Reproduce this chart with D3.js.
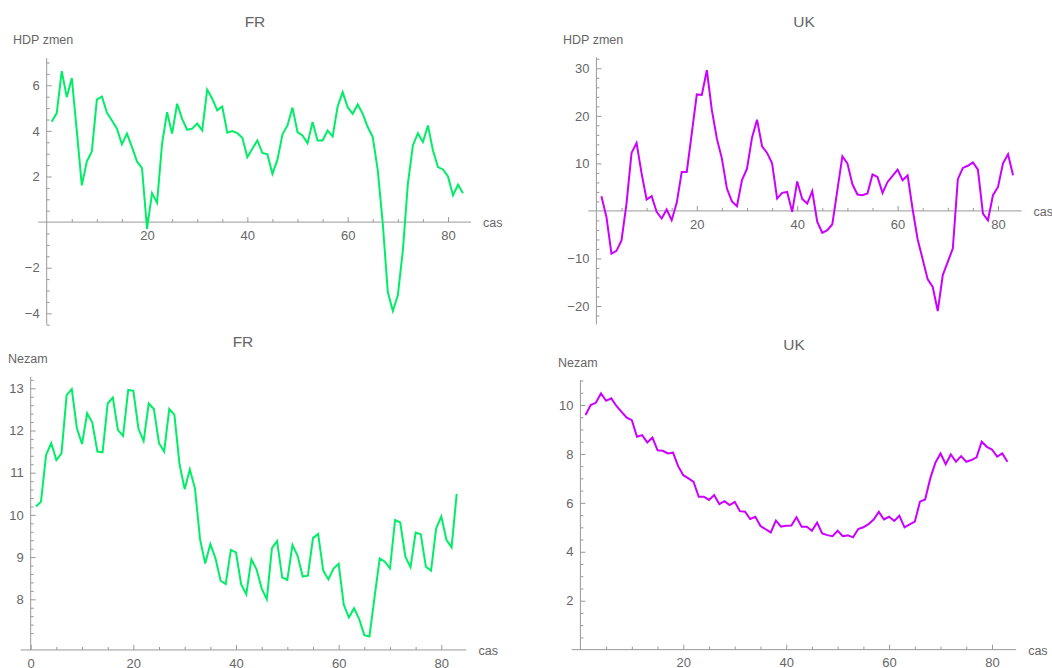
<!DOCTYPE html>
<html>
<head>
<meta charset="utf-8">
<script src="https://cdn.jsdelivr.net/npm/d3@7"></script>
<style>
  body { margin: 0; background: #fff; }
  svg text { font-family: "Liberation Sans", Arial, sans-serif; fill: #666; }
</style>
</head>
<body>
<div id="chart"></div>
<script>
// quarters 1..83 (x axis "cas")
const cas = d3.range(1, 84);

// HDP change, France
const frHdp = [4.4, 4.78, 6.62, 5.48, 6.32, 4.0, 1.61, 2.66, 3.1, 5.37,
  5.51, 4.8, 4.46, 4.1, 3.41, 3.88, 3.29, 2.66, 2.37, -0.3,
  1.27, 0.85, 3.44, 4.82, 3.88, 5.19, 4.53, 4.05, 4.1, 4.32,
  4.02, 5.81, 5.41, 4.9, 5.07, 3.92, 3.99, 3.9, 3.7, 2.85,
  3.22, 3.58, 3.03, 2.97, 2.12, 2.74, 3.85, 4.24, 5.02, 3.95,
  3.8, 3.46, 4.39, 3.58, 3.58, 4.02, 3.76, 5.07, 5.7, 5.04,
  4.75, 5.16, 4.75, 4.17, 3.73, 2.27, -0.07, -3.07, -3.9, -3.21,
  -1.24, 1.68, 3.36, 3.9, 3.51, 4.24, 3.14, 2.41, 2.31, 2.0,
  1.17, 1.64, 1.27];

// HDP change, UK
const ukHdp = [3.1, -1.26, -8.97, -8.4, -6.2, 1.55, 12.2, 14.3, 7.9, 2.4,
  3.1, -0.2, -1.6, 0.3, -1.96, 1.7, 8.2, 8.2, 16.3, 24.5,
  24.4, 29.6, 21.2, 15.2, 11.0, 4.7, 2.0, 1.0, 6.5, 8.9,
  15.4, 19.2, 13.6, 12.2, 10.0, 2.6, 3.8, 4.0, -0.2, 6.2,
  2.5, 1.55, 4.15, -2.3, -4.6, -4.06, -2.8, 4.36, 11.5, 10.0,
  5.6, 3.45, 3.3, 3.66, 7.66, 7.16, 3.8, 6.1, 7.37, 8.7,
  6.46, 7.5, 0.3, -6.0, -10.2, -14.4, -16.0, -21.05, -13.5, -10.7,
  -7.9, 6.67, 9.05, 9.5, 10.2, 8.7, -0.55, -1.96, 3.3, 5.05,
  10.0, 11.9, 7.5];

// unemployment, France
const frNezam = [10.2, 10.31, 11.42, 11.7, 11.3, 11.46, 12.84, 12.98, 12.05, 11.68,
  12.41, 12.19, 11.5, 11.48, 12.64, 12.78, 12.01, 11.87, 12.96, 12.94,
  12.04, 11.75, 12.64, 12.51, 11.7, 11.5, 12.51, 12.37, 11.2, 10.61,
  11.08, 10.63, 9.42, 8.85, 9.31, 8.97, 8.44, 8.36, 9.17, 9.11,
  8.36, 8.12, 8.95, 8.71, 8.26, 8.0, 9.21, 9.38, 8.52, 8.46,
  9.29, 9.03, 8.54, 8.56, 9.45, 9.55, 8.68, 8.47, 8.73, 8.84,
  7.87, 7.57, 7.79, 7.53, 7.15, 7.12, 8.06, 8.97, 8.89, 8.73,
  9.88, 9.82, 9.01, 8.76, 9.58, 9.54, 8.77, 8.68, 9.68, 9.96,
  9.41, 9.23, 10.5];

// unemployment, UK
const ukNezam = [9.59, 10.0, 10.09, 10.47, 10.17, 10.27, 9.96, 9.72, 9.48, 9.38,
  8.7, 8.77, 8.47, 8.67, 8.15, 8.13, 8.02, 8.05, 7.5, 7.13,
  7.0, 6.86, 6.25, 6.25, 6.12, 6.32, 5.95, 6.07, 5.91, 6.04,
  5.66, 5.64, 5.34, 5.43, 5.05, 4.92, 4.79, 5.27, 5.03, 5.06,
  5.07, 5.41, 5.02, 5.02, 4.86, 5.19, 4.75, 4.68, 4.64, 4.86,
  4.64, 4.67, 4.59, 4.93, 5.0, 5.13, 5.32, 5.63, 5.32, 5.43,
  5.26, 5.47, 5.0, 5.12, 5.23, 6.05, 6.14, 7.0, 7.64, 8.02,
  7.58, 7.98, 7.68, 7.91, 7.68, 7.75, 7.86, 8.5, 8.29, 8.18,
  7.89, 8.02, 7.68];

// tick values
const xMajorTL = [20, 40, 60, 80];
const xMajorBL = [0, 20, 40, 60, 80];
const yTicksFrHdp = [-4, -2, 2, 4, 6];
const yTicksUkHdp = [-20, -10, 10, 20, 30];
const yTicksFrNezam = [8, 9, 10, 11, 12, 13];
const yTicksUkNezam = [2, 4, 6, 8, 10];

const green = "#00ee66";
const purple = "#cc00ff";

const svg = d3.select("#chart").append("svg")
  .attr("width", 1052)
  .attr("height", 668);

function drawPanel(p) {
  const x = d3.scaleLinear().domain([0, 80]).range(p.xRange);
  const y = d3.scaleLinear().domain(p.yDomain).range(p.yRange);
  const g = svg.append("g");

  // title
  g.append("text")
    .attr("x", p.title[1]).attr("y", p.title[2])
    .attr("text-anchor", "middle")
    .style("font-size", "15.5px")
    .text(p.title[0]);

  // y label
  g.append("text")
    .attr("x", p.yLabel[1]).attr("y", p.yLabel[2])
    .style("font-size", "12.5px")
    .text(p.yLabel[0]);

  // x-axis at the crossing value
  const xAxisY = y(p.yCross);
  const xg = g.append("g").attr("transform", `translate(0,${xAxisY})`);
  xg.append("g")
    .call(d3.axisBottom(x).tickValues(d3.range(0, 85, 5).filter(v => v % 20 !== 0))
      .tickSizeInner(-3).tickSizeOuter(0).tickFormat(""))
    .call(a => a.select(".domain").remove());
  xg.append("g")
    .call(d3.axisBottom(x).tickValues(p.xTicks)
      .tickSizeInner(-5).tickSizeOuter(0).tickPadding(8.5)
      .tickFormat(d => d))
    .call(a => a.select(".domain").remove())
    .call(a => a.selectAll("text").style("font-size", "13px").attr("fill", null));
  xg.append("line")
    .attr("x1", x(p.xExtent[0])).attr("x2", x(p.xExtent[1]))
    .attr("stroke", "#999");
  xg.append("text")
    .attr("x", x(p.xExtent[1]) + 12).attr("y", 5)
    .style("font-size", "12.5px")
    .text("cas");

  // y-axis at x = 0
  const yg = g.append("g").attr("transform", `translate(${x(0)},0)`);
  yg.append("g")
    .call(d3.axisLeft(y).tickValues(p.yMinor)
      .tickSizeInner(-3).tickSizeOuter(0).tickFormat(""))
    .call(a => a.select(".domain").remove());
  yg.append("g")
    .call(d3.axisLeft(y).tickValues(p.yTicks)
      .tickSizeInner(-5).tickSizeOuter(0).tickPadding(7)
      .tickFormat(d => d < 0 ? "\u2212" + (-d) : d))
    .call(a => a.select(".domain").remove())
    .call(a => a.selectAll("text").style("font-size", "13px").attr("fill", null));
  yg.append("line")
    .attr("y1", y(p.yExtent[0])).attr("y2", y(p.yExtent[1]))
    .attr("stroke", "#999");

  g.selectAll(".tick line").attr("stroke", "#999");

  // series line
  const line = d3.line()
    .x((d, i) => x(cas[i]))
    .y(d => y(d));
  g.append("path")
    .datum(p.values)
    .attr("d", line)
    .attr("fill", "none")
    .attr("stroke", p.color)
    .attr("stroke-width", 2)
    .attr("stroke-linejoin", "miter");
}

const minor = (a, b, s) => d3.range(a, b + s / 2, s).map(v => +v.toFixed(2));

drawPanel({
  title: ["FR", 255, 27], yLabel: ["HDP zmen", 13, 44],
  xRange: [46.7, 448], yDomain: [-4, 6], yRange: [313.3, 85.3],
  yCross: 0, xExtent: [-1.7, 84.6], yExtent: [-4.5, 7.2],
  xTicks: xMajorTL, yTicks: yTicksFrHdp,
  yMinor: minor(-4.5, 7, 0.5).filter(v => v % 2 !== 0),
  values: frHdp, color: green
});

drawPanel({
  title: ["UK", 804, 27], yLabel: ["HDP zmen", 563, 44],
  xRange: [596.4, 998], yDomain: [-20, 30], yRange: [306, 68.3],
  yCross: 0, xExtent: [-1.6, 84.7], yExtent: [-23.9, 32.3],
  xTicks: xMajorTL, yTicks: yTicksUkHdp,
  yMinor: minor(-22, 32, 2).filter(v => v % 10 !== 0),
  values: ukHdp, color: purple
});

drawPanel({
  title: ["FR", 243, 347], yLabel: ["Nezam", 8, 363],
  xRange: [30.7, 441.3], yDomain: [8, 13], yRange: [599.3, 388.3],
  yCross: 6.8, xExtent: [-1.95, 84.9], yExtent: [6.8, 13.27],
  xTicks: xMajorBL, yTicks: yTicksFrNezam,
  yMinor: minor(7, 13.2, 0.2).filter(v => Math.abs(v - Math.round(v)) > 0.01),
  values: frNezam, color: green
});

drawPanel({
  title: ["UK", 794, 350], yLabel: ["Nezam", 558, 367],
  xRange: [580.4, 992], yDomain: [2, 10], yRange: [600.7, 405],
  yCross: 0, xExtent: [-1.7, 84.7], yExtent: [0, 11.02],
  xTicks: xMajorTL, yTicks: yTicksUkNezam,
  yMinor: minor(0.5, 11, 0.5).filter(v => v % 2 !== 0),
  values: ukNezam, color: purple
});
</script>
</body>
</html>
